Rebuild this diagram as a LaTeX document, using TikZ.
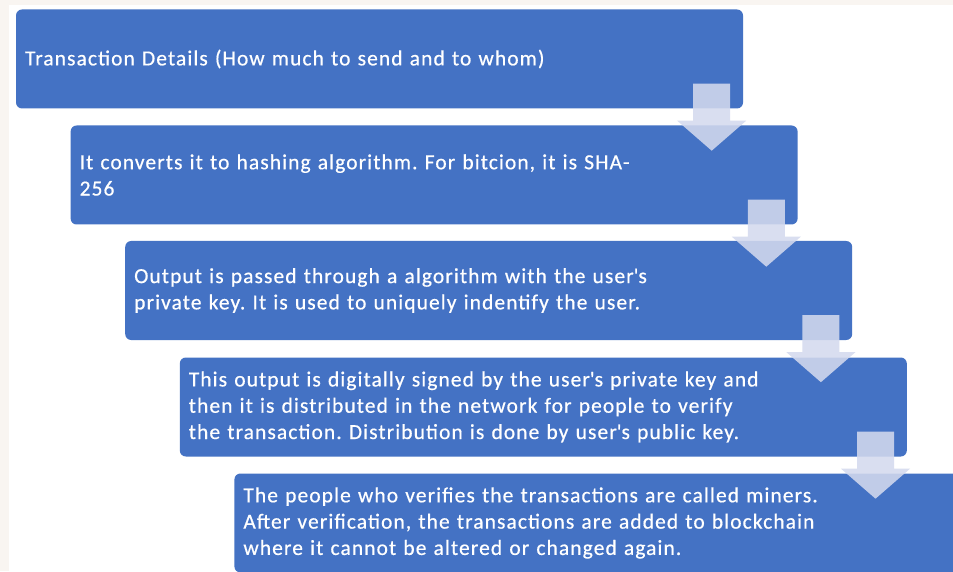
\documentclass[tikz,border=0pt]{standalone}
\usepackage{fontspec}
\setmainfont{Carlito}[LetterSpace=5,FakeBold=0.5]
\definecolor{boxblue}{HTML}{4472C4}
\definecolor{cream}{HTML}{F9F5F1}
\definecolor{arrowfill}{RGB}{212,218,238}
\newcommand\stagearrow[1]{%
  \fill[arrowfill, fill opacity=0.87]
    ([xshift=-50pt,yshift=25pt]#1.south east) --
    ([xshift=-13pt,yshift=25pt]#1.south east) --
    ([xshift=-13pt,yshift=-12pt]#1.south east) --
    ([xshift=3pt,yshift=-12pt]#1.south east) --
    ([xshift=-31.5pt,yshift=-42pt]#1.south east) --
    ([xshift=-66pt,yshift=-12pt]#1.south east) --
    ([xshift=-50pt,yshift=-12pt]#1.south east) -- cycle;}
\newcommand\apos{\textquotesingle}
\frenchspacing
\begin{document}
\begin{tikzpicture}[x=1pt,y=1pt,
  stage/.style={fill=boxblue, rounded corners=6pt, minimum width=727pt,
    minimum height=99pt, inner xsep=9pt, inner ysep=0pt, text width=709pt,
    align=left, text=white, font=\fontsize{21.5}{26.3}\selectfont}]
\useasboundingbox (0,0) rectangle (953,571);
\fill[cream] (0,0) rectangle (953,571);
\fill[white] (9,0) rectangle (953,566);
\node[stage] (b1) at (379.5,512) {Transaction Details (How much to send and to whom)};
\node[stage] (b2) at (434.1,396) {It converts it to hashing algorithm. For bitcion, it is SHA-\\256};
\node[stage] (b3) at (488.7,280.5) {Output is passed through a algorithm with the user\apos s\\private key. It is used to uniquely indentify the user.};
\node[stage] (b4) at (543.3,164) {This output is digitally signed by the user\apos s private key and\\then it is distributed in the network for people to verify\\the transaction. Distribution is done by user\apos s public key.};
\node[stage] (b5) at (597.9,48) {The people who verifies the transactions are called miners.\\After verification, the transactions are added to blockchain\\where it cannot be altered or changed again.};
\stagearrow{b1}
\stagearrow{b2}
\stagearrow{b3}
\stagearrow{b4}
\end{tikzpicture}
\end{document}
